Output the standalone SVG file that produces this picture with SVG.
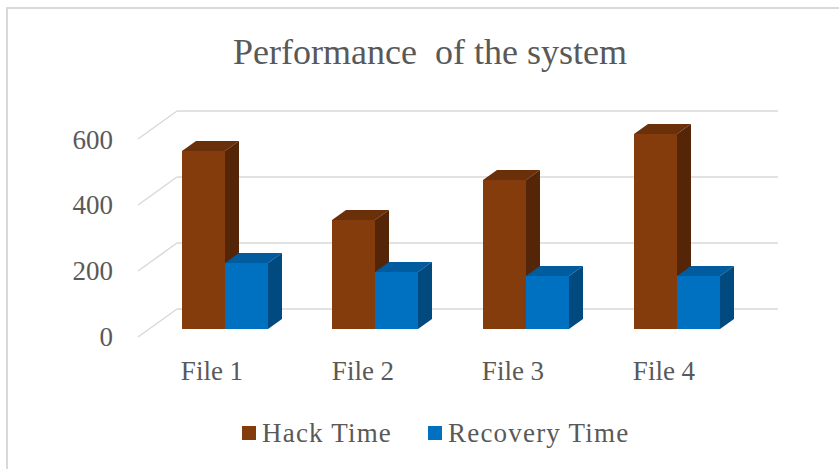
<svg xmlns="http://www.w3.org/2000/svg" width="839" height="469" viewBox="0 0 839 469">
<defs>
<style>
.t{font-family:"Liberation Serif","Times New Roman",serif;fill:#595959}
.grid{stroke:#d9d9d9;stroke-width:1.5;fill:none}
.hf{fill:#843c0c}.ht{fill:#6a300a}.hs{fill:#552507}
.rf{fill:#0070c0}.rt{fill:#005c9e}.rs{fill:#004a80}
</style>
</defs>
<rect x="0" y="0" width="839" height="469" fill="#ffffff"/>
<rect x="7" y="8" width="845" height="475" fill="none" stroke="#d9d9d9" stroke-width="2"/>
<text class="t" x="430" y="64" font-size="36" text-anchor="middle" style="white-space:pre">Performance  of the system</text>
<g id="gridlines" class="grid">
<path d="M177 111H778M138 139L177 111"/>
<path d="M177 177H778M138 205L177 177"/>
<path d="M177 243H778M138 271L177 243"/>
<path d="M177 309H778M138 337L177 309"/>
</g>
<g id="y-axis" class="t" font-size="27" text-anchor="end">
<text x="113" y="149">600</text>
<text x="113" y="214">400</text>
<text x="113" y="280">200</text>
<text x="113" y="346">0</text>
</g>
<g id="file1">
<polygon class="hf" points="182,151 225,151 225,329 182,329"/>
<polygon class="ht" points="182,151 225,151 239,141 196,141"/>
<polygon class="hs" points="225,151 239,141 239,319 225,329"/>
<polygon class="rf" points="225,263 268,263 268,329 225,329"/>
<polygon class="rt" points="225,263 268,263 282,253 239,253"/>
<polygon class="rs" points="268,263 282,253 282,319 268,329"/>
</g>
<g id="file2">
<polygon class="hf" points="332,220 375,220 375,329 332,329"/>
<polygon class="ht" points="332,220 375,220 389,210 346,210"/>
<polygon class="hs" points="375,220 389,210 389,319 375,329"/>
<polygon class="rf" points="375,272 418,272 418,329 375,329"/>
<polygon class="rt" points="375,272 418,272 432,262 389,262"/>
<polygon class="rs" points="418,272 432,262 432,319 418,329"/>
</g>
<g id="file3">
<polygon class="hf" points="483,180 526,180 526,329 483,329"/>
<polygon class="ht" points="483,180 526,180 540,170 497,170"/>
<polygon class="hs" points="526,180 540,170 540,319 526,329"/>
<polygon class="rf" points="526,276 569,276 569,329 526,329"/>
<polygon class="rt" points="526,276 569,276 583,266 540,266"/>
<polygon class="rs" points="569,276 583,266 583,319 569,329"/>
</g>
<g id="file4">
<polygon class="hf" points="634,134 677,134 677,329 634,329"/>
<polygon class="ht" points="634,134 677,134 691,124 648,124"/>
<polygon class="hs" points="677,134 691,124 691,319 677,329"/>
<polygon class="rf" points="677,276 720,276 720,329 677,329"/>
<polygon class="rt" points="677,276 720,276 734,266 691,266"/>
<polygon class="rs" points="720,276 734,266 734,319 720,329"/>
</g>
<g id="x-axis" class="t" font-size="27" text-anchor="middle">
<text x="212" y="380">File 1</text>
<text x="363" y="380">File 2</text>
<text x="513" y="380">File 3</text>
<text x="664" y="380">File 4</text>
</g>
<g id="legend">
<rect class="hf" x="242" y="426" width="14" height="14"/>
<text class="t" x="262" y="442" font-size="27" letter-spacing="1.2">Hack Time</text>
<rect class="rf" x="428" y="426" width="14" height="14"/>
<text class="t" x="448" y="442" font-size="27" letter-spacing="1.2">Recovery Time</text>
</g>
</svg>
